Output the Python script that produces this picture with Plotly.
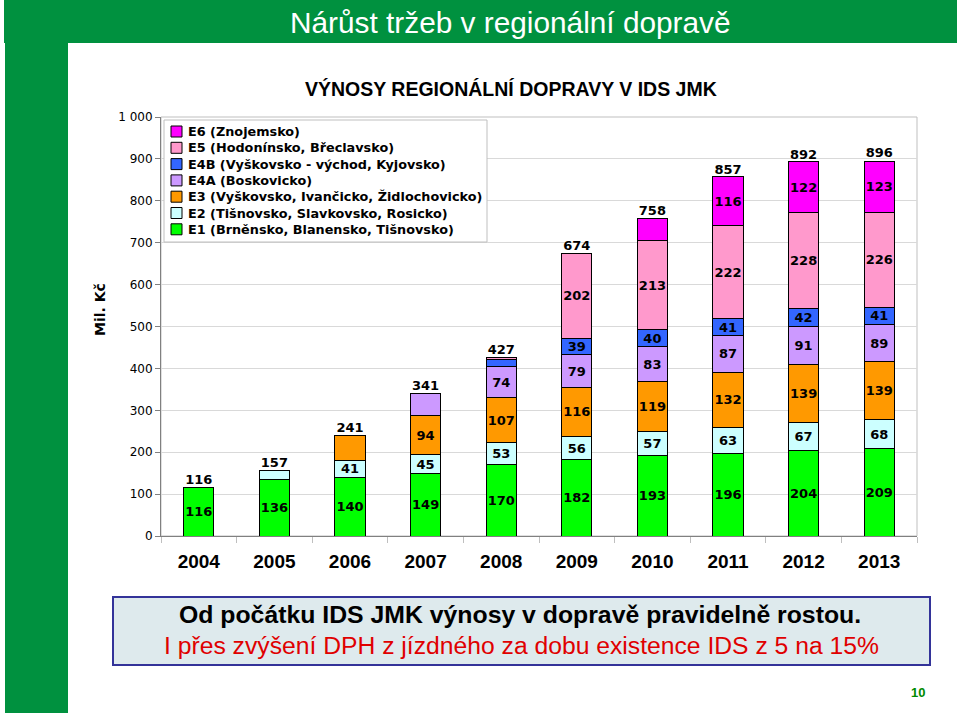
import plotly.graph_objects as go

# ---------------- data ----------------
years = ["2004", "2005", "2006", "2007", "2008", "2009", "2010", "2011", "2012", "2013"]
series_names = [
    "E1 (Brněnsko, Blanensko, Tišnovsko)",
    "E2 (Tišnovsko, Slavkovsko, Rosicko)",
    "E3 (Vyškovsko, Ivančicko, Židlochovicko)",
    "E4A (Boskovicko)",
    "E4B (Vyškovsko - východ, Kyjovsko)",
    "E5 (Hodonínsko, Břeclavsko)",
    "E6 (Znojemsko)",
]
e1 = [116, 136, 140, 149, 170, 182, 193, 196, 204, 209]
e2 = [None, 21, 41, 45, 53, 56, 57, 63, 67, 68]
e3 = [None, None, 60, 94, 107, 116, 119, 132, 139, 139]
e4a = [None, None, None, 53, 74, 79, 83, 87, 91, 89]
e4b = [None, None, None, None, 17, 39, 40, 41, 42, 41]
e5 = [None, None, None, None, 6, 202, 213, 222, 228, 226]
e6 = [None, None, None, None, None, None, 53, 116, 122, 123]
totals = [116, 157, 241, 341, 427, 674, 758, 857, 892, 896]
y_ticks = [0, 100, 200, 300, 400, 500, 600, 700, 800, 900, 1000]
y_tick_text = ["0", "100", "200", "300", "400", "500", "600", "700", "800", "900", "1 000"]

series_values = [e1, e2, e3, e4a, e4b, e5, e6]
colors = ["#00FF00", "#CCFFFF", "#FF9900", "#CC99FF", "#3366FF", "#FF99CC", "#FF00FF"]

# ---------------- layout geometry ----------------
W, H = 960, 716
ML, MR, MT, MB = 161, 43, 117, 180
PW, PH = W - ML - MR, H - MT - MB


def px(x):
    return (x - ML) / PW


def py(y):
    return (H - MB - y) / PH


fig = go.Figure()

for i, (name, vals, col) in enumerate(zip(series_names, series_values, colors)):
    first = next(k for k, v in enumerate(vals) if v is not None)
    texts = []
    for k, v in enumerate(vals):
        if v is None or (k == first and i > 0):
            texts.append("")
        else:
            texts.append(str(v))
    fig.add_trace(go.Bar(
        x=years, y=vals, name=name, showlegend=False,
        marker=dict(color=col, line=dict(color="#000000", width=1)),
        text=texts, textposition="inside", insidetextanchor="middle",
        constraintext="none", textangle=0,
        textfont=dict(family="DejaVu Sans", size=13, color="#000000", weight="bold"),
        hoverinfo="skip",
    ))

fig.add_trace(go.Scatter(
    x=years, y=totals, mode="text", text=[str(t) for t in totals],
    textposition="top center", showlegend=False, cliponaxis=False,
    textfont=dict(family="DejaVu Sans", size=13, color="#000000", weight="bold"),
    hoverinfo="skip",
))

shapes = [
    # green header band
    dict(type="rect", xref="paper", yref="paper", x0=px(4), x1=px(957), y0=py(43), y1=py(0),
         fillcolor="#00913F", line=dict(width=0), layer="below"),
    # left green bar
    dict(type="rect", xref="paper", yref="paper", x0=px(5), x1=px(68), y0=py(713), y1=py(0),
         fillcolor="#00913F", line=dict(width=0), layer="below"),
    # plot frame
    dict(type="rect", xref="paper", yref="paper", x0=0, x1=1, y0=0, y1=1,
         fillcolor="rgba(0,0,0,0)", line=dict(color="#BFBFBF", width=1), layer="below"),
    # bottom message box
    dict(type="rect", xref="paper", yref="paper", x0=px(113), x1=px(930), y0=py(665), y1=py(597),
         fillcolor="#DEEAED", line=dict(color="#333399", width=2), layer="below"),
    # legend box
    dict(type="rect", xref="paper", yref="paper", x0=px(164), x1=px(487), y0=py(242), y1=py(120),
         fillcolor="#FFFFFF", line=dict(color="#BFBFBF", width=1), layer="above"),
]

annotations = [
    dict(text="Nárůst tržeb v regionální dopravě", x=px(510), y=py(22), xref="paper", yref="paper",
         showarrow=False, xanchor="center", yanchor="middle",
         font=dict(family="Liberation Sans", size=29.8, color="#FFFFFF")),
    dict(text="VÝNOSY REGIONÁLNÍ DOPRAVY V IDS JMK", x=px(511), y=py(88), xref="paper", yref="paper",
         showarrow=False, xanchor="center", yanchor="middle",
         font=dict(family="Liberation Sans", size=19.5, color="#000000", weight="bold")),
    dict(text="Mil. Kč", x=px(100), y=py(310), xref="paper", yref="paper", textangle=-90,
         showarrow=False, xanchor="center", yanchor="middle",
         font=dict(family="DejaVu Sans", size=14, color="#000000", weight="bold")),
    dict(text="Od počátku IDS JMK výnosy v dopravě pravidelně rostou.", x=px(520), y=py(614),
         xref="paper", yref="paper", showarrow=False, xanchor="center", yanchor="middle",
         font=dict(family="Liberation Sans", size=24.8, color="#000000", weight="bold")),
    dict(text="I přes zvýšení DPH z jízdného za dobu existence IDS z 5 na 15%", x=px(521), y=py(645),
         xref="paper", yref="paper", showarrow=False, xanchor="center", yanchor="middle",
         font=dict(family="Liberation Sans", size=24.7, color="#E00000")),
    dict(text="10", x=px(918), y=py(692), xref="paper", yref="paper", showarrow=False,
         xanchor="center", yanchor="middle",
         font=dict(family="Liberation Sans", size=13, color="#008A00", weight="bold")),
]

# legend (top-to-bottom: E6 ... E1)
row_y0, row_step = 131.5, 16.3
for r, idx in enumerate(range(len(series_names) - 1, -1, -1)):
    cy = row_y0 + r * row_step
    shapes.append(dict(type="rect", xref="paper", yref="paper",
                       x0=px(171), x1=px(182), y0=py(cy + 5.5), y1=py(cy - 5.5),
                       fillcolor=colors[idx], line=dict(color="#000000", width=1), layer="above"))
    annotations.append(dict(text=series_names[idx], x=px(186), y=py(cy), xref="paper", yref="paper",
                            showarrow=False, xanchor="left", yanchor="middle",
                            font=dict(family="DejaVu Sans", size=12.8, color="#000000", weight="bold")))

fig.update_layout(
    width=W, height=H,
    margin=dict(l=ML, r=MR, t=MT, b=MB, pad=0),
    paper_bgcolor="#FFFFFF", plot_bgcolor="#FFFFFF",
    barmode="stack", bargap=0.6,
    showlegend=False,
    xaxis=dict(
        type="category", tickson="boundaries", ticks="outside", ticklen=6,
        tickcolor="#BFBFBF", showline=True, linecolor="#808080", linewidth=1,
        showgrid=False, ticklabelstandoff=8,
        tickfont=dict(family="Liberation Sans", size=19, color="#000000", weight="bold"),
    ),
    yaxis=dict(
        range=[0, 1000], tickvals=y_ticks, ticktext=y_tick_text,
        ticks="outside", ticklen=5, tickcolor="#808080",
        showline=True, linecolor="#808080", linewidth=1,
        showgrid=True, gridcolor="#D9D9D9", gridwidth=1, zeroline=False,
        tickfont=dict(family="DejaVu Sans", size=12, color="#000000"),
    ),
    shapes=shapes,
    annotations=annotations,
)

fig.write_html("out.html", config={"displayModeBar": False},
               post_script="document.body.style.margin='0';")
